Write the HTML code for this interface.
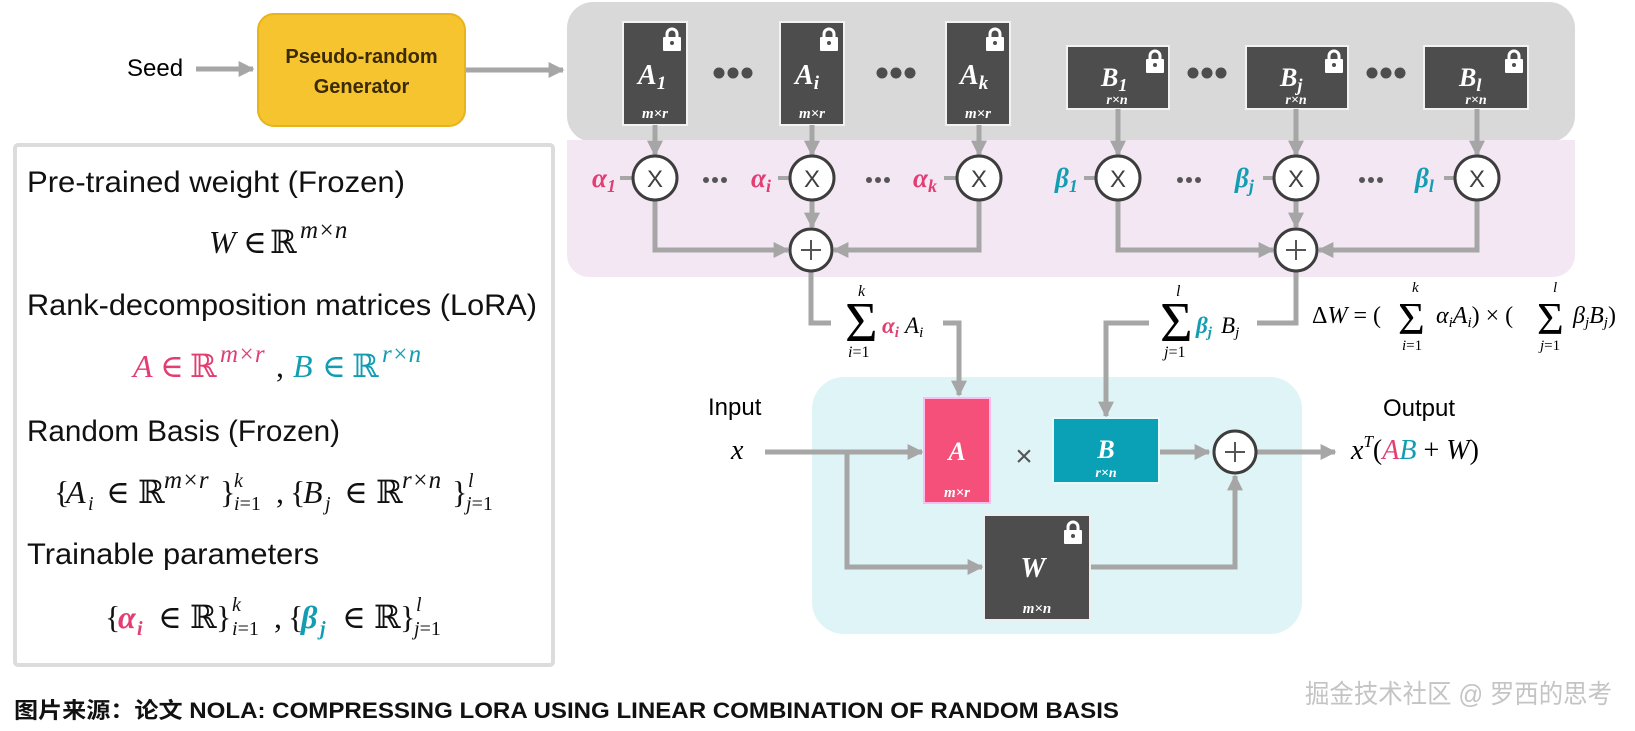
<!DOCTYPE html>
<html><head><meta charset="utf-8"><style>
html,body{margin:0;padding:0;background:#fff;}
svg{display:block;}
.s{font-family:"Liberation Sans","Noto Sans CJK SC",sans-serif;}
.m{font-family:"Liberation Serif","DejaVu Serif",serif;font-style:italic;}
.r{font-family:"Liberation Serif","DejaVu Serif",serif;}
.bl{font-family:"Liberation Serif","DejaVu Serif",serif;font-style:italic;font-weight:bold;fill:#fff;}
.ln{stroke:#a6a6a6;stroke-width:5;fill:none;}
.ci{fill:#fff;stroke:#3d3d3d;stroke-width:3;}
</style></head><body>
<svg width="1635" height="731" viewBox="0 0 1635 731" xmlns="http://www.w3.org/2000/svg">
<defs>
<marker id="ah" viewBox="0 0 10 10" refX="9" refY="5" markerWidth="16" markerHeight="18" markerUnits="userSpaceOnUse" orient="auto">
<path d="M0,0 L10,5 L0,10 z" fill="#a6a6a6"/></marker>
<g id="lk"><path d="M4,10 V6 a5,5 0 0 1 10,0 V10" stroke="#fff" stroke-width="3" fill="none"/><rect x="0" y="9" width="18" height="14" rx="1" fill="#fff"/><circle cx="9" cy="15" r="2" fill="#4d4d4d"/></g>
</defs>

<rect x="567" y="2" width="1008" height="140" rx="26" fill="#d9d9d9"/>
<rect x="567" y="140" width="1008" height="137" rx="22" fill="#f4e7f4"/>
<rect x="567" y="140" width="1008" height="30" fill="#f4e7f4"/>
<rect x="812" y="377" width="490" height="257" rx="32" fill="#dff4f6"/>
<rect x="15" y="145" width="538" height="520" rx="3" fill="#fff" stroke="#dcdcdc" stroke-width="4"/>

<text class="s" x="127" y="76" font-size="24">Seed</text>
<line class="ln" x1="196" y1="69" x2="253" y2="69" marker-end="url(#ah)"/>
<rect x="258" y="14" width="207" height="112" rx="16" fill="#f6c42e" stroke="#e8b41e" stroke-width="2"/>
<text class="s" x="361.5" y="63" font-size="20" font-weight="bold" fill="#3a2a05" text-anchor="middle">Pseudo-random</text>
<text class="s" x="361.5" y="93" font-size="20" font-weight="bold" fill="#3a2a05" text-anchor="middle">Generator</text>
<line class="ln" x1="466" y1="70" x2="563" y2="70" marker-end="url(#ah)"/>

<g>
<rect x="623" y="22" width="64" height="103" fill="#4d4d4d" stroke="#f2f2f2" stroke-width="2"/>
<rect x="780" y="22" width="64" height="103" fill="#4d4d4d" stroke="#f2f2f2" stroke-width="2"/>
<rect x="946" y="22" width="64" height="103" fill="#4d4d4d" stroke="#f2f2f2" stroke-width="2"/>
<use href="#lk" x="663" y="28"/><use href="#lk" x="820" y="28"/><use href="#lk" x="986" y="28"/>
<text class="bl" x="638" y="84" font-size="28">A<tspan font-size="19" dy="5">1</tspan></text>
<text class="bl" x="795" y="84" font-size="28">A<tspan font-size="19" dy="5">i</tspan></text>
<text class="bl" x="960" y="84" font-size="28">A<tspan font-size="19" dy="5">k</tspan></text>
<text class="bl" x="655" y="118" font-size="15" text-anchor="middle">m×r</text>
<text class="bl" x="812" y="118" font-size="15" text-anchor="middle">m×r</text>
<text class="bl" x="978" y="118" font-size="15" text-anchor="middle">m×r</text>
</g>
<g fill="#4d4d4d">
<circle cx="719" cy="73" r="5.5"/><circle cx="733" cy="73" r="5.5"/><circle cx="747" cy="73" r="5.5"/>
<circle cx="882" cy="73" r="5.5"/><circle cx="896" cy="73" r="5.5"/><circle cx="910" cy="73" r="5.5"/>
<circle cx="1193" cy="73" r="5.5"/><circle cx="1207" cy="73" r="5.5"/><circle cx="1221" cy="73" r="5.5"/>
<circle cx="1372" cy="73" r="5.5"/><circle cx="1386" cy="73" r="5.5"/><circle cx="1400" cy="73" r="5.5"/>
</g>

<rect x="1067" y="46" width="102" height="63" fill="#4d4d4d" stroke="#f2f2f2" stroke-width="2"/>
<rect x="1246" y="46" width="102" height="63" fill="#4d4d4d" stroke="#f2f2f2" stroke-width="2"/>
<rect x="1424" y="46" width="104" height="63" fill="#4d4d4d" stroke="#f2f2f2" stroke-width="2"/>
<use href="#lk" x="1146" y="50"/><use href="#lk" x="1325" y="50"/><use href="#lk" x="1505" y="50"/>
<text class="bl" x="1101" y="86" font-size="26">B<tspan font-size="18" dy="5">1</tspan></text>
<text class="bl" x="1280" y="86" font-size="26">B<tspan font-size="18" dy="5">j</tspan></text>
<text class="bl" x="1459" y="86" font-size="26">B<tspan font-size="18" dy="5">l</tspan></text>
<text class="bl" x="1117" y="104" font-size="14" text-anchor="middle">r×n</text>
<text class="bl" x="1296" y="104" font-size="14" text-anchor="middle">r×n</text>
<text class="bl" x="1476" y="104" font-size="14" text-anchor="middle">r×n</text>

<g class="ln">
<line x1="655" y1="125" x2="655" y2="155" marker-end="url(#ah)"/>
<line x1="812" y1="125" x2="812" y2="155" marker-end="url(#ah)"/>
<line x1="979" y1="125" x2="979" y2="155" marker-end="url(#ah)"/>
<line x1="1118" y1="109" x2="1118" y2="155" marker-end="url(#ah)"/>
<line x1="1296" y1="109" x2="1296" y2="155" marker-end="url(#ah)"/>
<line x1="1477" y1="109" x2="1477" y2="155" marker-end="url(#ah)"/>
<polyline points="655,200 655,250 788,250" marker-end="url(#ah)"/>
<polyline points="979,200 979,250 834,250" marker-end="url(#ah)"/>
<line x1="812" y1="200" x2="812" y2="227" marker-end="url(#ah)"/>
<polyline points="1118,200 1118,250 1273,250" marker-end="url(#ah)"/>
<polyline points="1477,200 1477,250 1319,250" marker-end="url(#ah)"/>
<line x1="1296" y1="200" x2="1296" y2="227" marker-end="url(#ah)"/>
<line x1="620" y1="178" x2="633" y2="178" stroke-width="4"/>
<line x1="778" y1="178" x2="790" y2="178" stroke-width="4"/>
<line x1="944" y1="178" x2="957" y2="178" stroke-width="4"/>
<line x1="1084" y1="178" x2="1096" y2="178" stroke-width="4"/>
<line x1="1263" y1="178" x2="1274" y2="178" stroke-width="4"/>
<line x1="1444" y1="178" x2="1455" y2="178" stroke-width="4"/>
<polyline points="811,272 811,323 831,323"/>
<polyline points="943,323 959,323 959,395" marker-end="url(#ah)"/>
<polyline points="1296,272 1296,323 1257,323"/>
<polyline points="1149,323 1106,323 1106,416" marker-end="url(#ah)"/>
<line x1="765" y1="452" x2="922" y2="452" marker-end="url(#ah)"/>
<polyline points="847,452 847,567 982,567" marker-end="url(#ah)"/>
<line x1="1159" y1="452" x2="1209" y2="452" marker-end="url(#ah)"/>
<polyline points="1090,567 1235,567 1235,476" marker-end="url(#ah)"/>
<line x1="1257" y1="452" x2="1335" y2="452" marker-end="url(#ah)"/>
</g>

<g>
<circle class="ci" cx="655" cy="178" r="22"/><circle class="ci" cx="812" cy="178" r="22"/><circle class="ci" cx="979" cy="178" r="22"/>
<circle class="ci" cx="1118" cy="178" r="22"/><circle class="ci" cx="1296" cy="178" r="22"/><circle class="ci" cx="1477" cy="178" r="22"/>
<g class="s" font-size="24" fill="#404040" text-anchor="middle">
<text x="655" y="187">X</text><text x="812" y="187">X</text><text x="979" y="187">X</text>
<text x="1118" y="187">X</text><text x="1296" y="187">X</text><text x="1477" y="187">X</text>
</g>
<circle class="ci" cx="811" cy="250" r="21"/><circle class="ci" cx="1296" cy="250" r="21"/><circle class="ci" cx="1235" cy="452" r="21"/>
<g stroke="#555" stroke-width="2">
<line x1="801" y1="250" x2="821" y2="250"/><line x1="811" y1="240" x2="811" y2="260"/>
<line x1="1286" y1="250" x2="1306" y2="250"/><line x1="1296" y1="240" x2="1296" y2="260"/>
<line x1="1225" y1="452" x2="1245" y2="452"/><line x1="1235" y1="442" x2="1235" y2="462"/>
</g>
</g>
<g fill="#555">
<circle cx="706" cy="180" r="3"/><circle cx="715" cy="180" r="3"/><circle cx="724" cy="180" r="3"/>
<circle cx="869" cy="180" r="3"/><circle cx="878" cy="180" r="3"/><circle cx="887" cy="180" r="3"/>
<circle cx="1180" cy="180" r="3"/><circle cx="1189" cy="180" r="3"/><circle cx="1198" cy="180" r="3"/>
<circle cx="1362" cy="180" r="3"/><circle cx="1371" cy="180" r="3"/><circle cx="1380" cy="180" r="3"/>
</g>

<g class="m" font-weight="bold" font-size="27">
<text x="592" y="187" fill="#e23e72">α<tspan font-size="18" dy="5">1</tspan></text>
<text x="751" y="187" fill="#e23e72">α<tspan font-size="18" dy="5">i</tspan></text>
<text x="913" y="187" fill="#e23e72">α<tspan font-size="18" dy="5">k</tspan></text>
<text x="1055" y="187" fill="#129db3">β<tspan font-size="18" dy="5">1</tspan></text>
<text x="1235" y="187" fill="#129db3">β<tspan font-size="18" dy="5">j</tspan></text>
<text x="1415" y="187" fill="#129db3">β<tspan font-size="18" dy="5">l</tspan></text>
</g>

<!-- sum labels -->
<text class="r" x="845" y="341" font-size="56">Σ</text>
<text class="m" x="858" y="296" font-size="16">k</text>
<text class="m" x="848" y="357" font-size="16">i<tspan font-style="normal">=1</tspan></text>
<text class="m" x="882" y="333" font-size="23" font-weight="bold" fill="#e23e72">α<tspan font-size="15" dy="4">i</tspan></text>
<text class="m" x="905" y="333" font-size="23">A<tspan font-size="15" dy="4">i</tspan></text>

<text class="r" x="1160" y="341" font-size="56">Σ</text>
<text class="m" x="1176" y="296" font-size="16">l</text>
<text class="m" x="1164" y="357" font-size="16">j<tspan font-style="normal">=1</tspan></text>
<text class="m" x="1196" y="333" font-size="23" font-weight="bold" fill="#129db3">β<tspan font-size="15" dy="4">j</tspan></text>
<text class="m" x="1221" y="333" font-size="23">B<tspan font-size="15" dy="4">j</tspan></text>

<g font-size="24">
<text class="r" x="1312" y="323">Δ<tspan font-style="italic">W</tspan> = (</text>
<text class="r" x="1398" y="334" font-size="46">Σ</text>
<text class="m" x="1412" y="292" font-size="15">k</text>
<text class="m" x="1402" y="350" font-size="15">i<tspan font-style="normal">=1</tspan></text>
<text class="m" x="1436" y="323">α<tspan font-size="15" dy="4">i</tspan><tspan dy="-4">A</tspan><tspan font-size="15" dy="4">i</tspan><tspan dy="-4" font-style="normal">) × (</tspan></text>
<text class="r" x="1537" y="334" font-size="46">Σ</text>
<text class="m" x="1553" y="292" font-size="15">l</text>
<text class="m" x="1540" y="350" font-size="15">j<tspan font-style="normal">=1</tspan></text>
<text class="m" x="1573" y="323">β<tspan font-size="15" dy="4">j</tspan><tspan dy="-4">B</tspan><tspan font-size="15" dy="4">j</tspan><tspan dy="-4" font-style="normal">)</tspan></text>
</g>

<text class="s" x="708" y="415" font-size="24">Input</text>
<text class="m" x="731" y="459" font-size="28">x</text>
<rect x="924" y="398" width="66" height="105" fill="#f4507a" stroke="#fbe" stroke-width="2"/>
<text class="bl" x="957" y="460" font-size="26" text-anchor="middle">A</text>
<text class="bl" x="957" y="497" font-size="15" text-anchor="middle">m×r</text>
<text class="s" x="1024" y="466" font-size="30" fill="#555" text-anchor="middle">×</text>
<rect x="1053" y="418" width="106" height="65" fill="#0aa0b5" stroke="#e6fafc" stroke-width="2"/>
<text class="bl" x="1106" y="458" font-size="26" text-anchor="middle">B</text>
<text class="bl" x="1106" y="477" font-size="14" text-anchor="middle">r×n</text>
<rect x="984" y="515" width="106" height="105" fill="#4d4d4d" stroke="#eee" stroke-width="2"/>
<use href="#lk" x="1064" y="521"/>
<text class="bl" x="1033" y="577" font-size="28" text-anchor="middle">W</text>
<text class="bl" x="1037" y="613" font-size="15" text-anchor="middle">m×n</text>
<text class="s" x="1383" y="416" font-size="24">Output</text>
<text class="m" x="1351" y="459" font-size="28">x<tspan font-size="17" dy="-12">T</tspan><tspan dy="12" font-style="normal">(</tspan><tspan fill="#e23e72">A</tspan><tspan fill="#129db3">B</tspan><tspan font-style="normal"> + </tspan>W<tspan font-style="normal">)</tspan></text>

<g class="s" font-size="30" fill="#111">
<text x="27" y="192" textLength="378" lengthAdjust="spacingAndGlyphs">Pre-trained weight (Frozen)</text>
<text x="27" y="315" textLength="510" lengthAdjust="spacingAndGlyphs">Rank-decomposition matrices (LoRA)</text>
<text x="27" y="441" textLength="313" lengthAdjust="spacingAndGlyphs">Random Basis (Frozen)</text>
<text x="27" y="564" textLength="292" lengthAdjust="spacingAndGlyphs">Trainable parameters</text>
</g>
<g font-size="32" fill="#111">
<text class="m" x="209" y="253">W</text><text class="r" x="243" y="253">∈</text><text class="r" x="270" y="253">ℝ</text>
<text class="m" x="300" y="238" font-size="25">m×n</text>

<text class="m" x="133" y="377" fill="#e23e72">A</text><text class="r" x="160" y="377" fill="#e23e72">∈</text><text class="r" x="190" y="377" fill="#e23e72">ℝ</text>
<text class="m" x="220" y="362" font-size="25" fill="#e23e72">m×r</text><text class="r" x="276" y="377">,</text>
<text class="m" x="293" y="377" fill="#129db3">B</text><text class="r" x="322" y="377" fill="#129db3">∈</text><text class="r" x="352" y="377" fill="#129db3">ℝ</text>
<text class="m" x="382" y="362" font-size="25" fill="#129db3">r×n</text>

<text class="r" x="54" y="503">{</text><text class="m" x="66" y="503">A</text><text class="m" x="88" y="510" font-size="20">i</text>
<text class="r" x="106" y="503">∈</text><text class="r" x="138" y="503">ℝ</text><text class="m" x="164" y="488" font-size="25">m×r</text>
<text class="r" x="220" y="503">}</text><text class="m" x="234" y="487" font-size="20">k</text><text class="m" x="234" y="510" font-size="20">i<tspan font-style="normal">=1</tspan></text>
<text class="r" x="276" y="503">,</text><text class="r" x="290" y="503">{</text><text class="m" x="303" y="503">B</text><text class="m" x="325" y="510" font-size="20">j</text>
<text class="r" x="344" y="503">∈</text><text class="r" x="376" y="503">ℝ</text><text class="m" x="402" y="488" font-size="25">r×n</text>
<text class="r" x="452" y="503">}</text><text class="m" x="468" y="487" font-size="20">l</text><text class="m" x="466" y="510" font-size="20">j<tspan font-style="normal">=1</tspan></text>

<text class="r" x="105" y="628">{</text><text class="m" x="118" y="628" font-weight="bold" fill="#e23e72">α</text><text class="m" x="137" y="635" font-size="20" font-weight="bold" fill="#e23e72">i</text>
<text class="r" x="158" y="628">∈</text><text class="r" x="190" y="628">ℝ</text><text class="r" x="216" y="628">}</text>
<text class="m" x="232" y="611" font-size="20">k</text><text class="m" x="232" y="635" font-size="20">i<tspan font-style="normal">=1</tspan></text>
<text class="r" x="274" y="628">,</text><text class="r" x="288" y="628">{</text><text class="m" x="301" y="628" font-weight="bold" fill="#129db3">β</text><text class="m" x="320" y="635" font-size="20" font-weight="bold" fill="#129db3">j</text>
<text class="r" x="342" y="628">∈</text><text class="r" x="374" y="628">ℝ</text><text class="r" x="400" y="628">}</text>
<text class="m" x="416" y="611" font-size="20">l</text><text class="m" x="414" y="635" font-size="20">j<tspan font-style="normal">=1</tspan></text>
</g>

<text class="s" x="14" y="718" font-size="22" font-weight="bold" fill="#111" textLength="1105" lengthAdjust="spacingAndGlyphs">图片来源：论文 NOLA: COMPRESSING LORA USING LINEAR COMBINATION OF RANDOM BASIS</text>
<text class="s" x="1305" y="703" font-size="26" fill="#c4c4c4" textLength="307" lengthAdjust="spacingAndGlyphs">掘金技术社区 @ 罗西的思考</text>
</svg>
</body></html>
